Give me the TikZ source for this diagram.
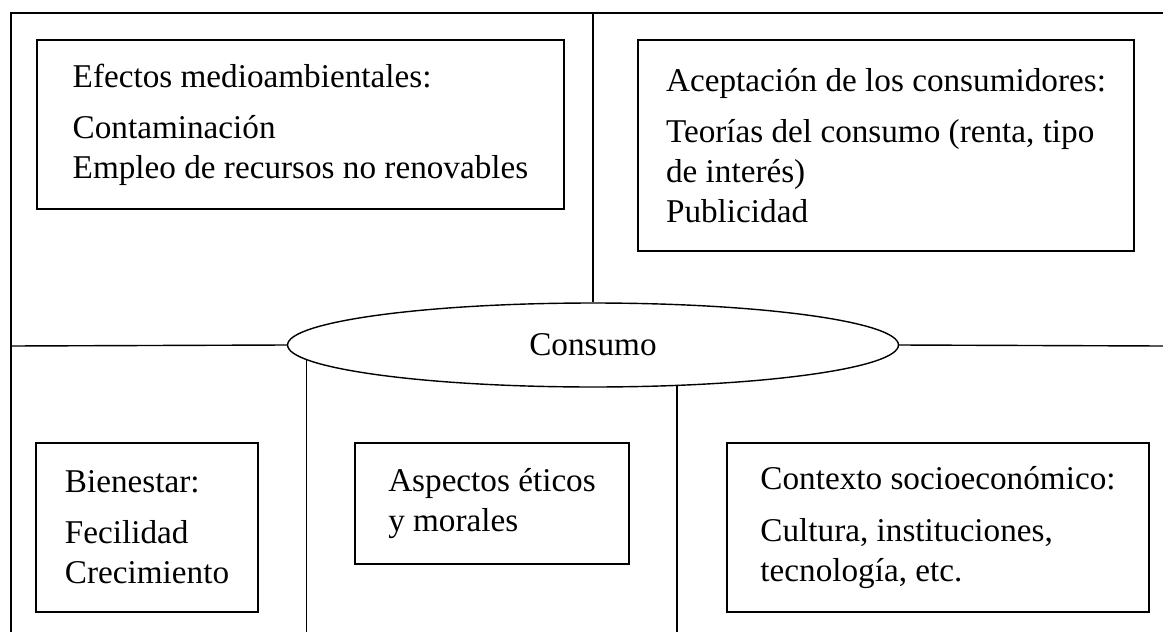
\documentclass[tikz,border=0pt]{standalone}
\usepackage{fontspec}
\setmainfont{Liberation Serif}
\usetikzlibrary{shapes.geometric}
\tikzset{
  topic box/.style={
    draw=black,
    line width=0.9pt,
    inner sep=0pt,
    align=left,
    font=\fontsize{18.9}{22.8}\selectfont,
  },
  frame line/.style={
    line width=1.1pt,
    draw=black,
  },
  divider/.style={
    line width=0.8pt,
    draw=black,
  },
}

\begin{document}
\begin{tikzpicture}[x=0.02cm,y=-0.02cm]
  \useasboundingbox (0,0) rectangle (1163,632);

  % Outer frame corners and side ends
  \coordinate (frameNW) at (11,13);
  \coordinate (frameNE) at (1163,13);
  \coordinate (frameSW) at (11,632);
  \coordinate (leftend) at (11,346);
  \coordinate (rightend) at (1163,346);

  % Central ellipse
  \node[ellipse, draw, line width=0.8pt, inner sep=0pt,
        minimum width=12.22cm, minimum height=1.68cm,
        font=\fontsize{18.9}{22.8}\selectfont] (consumo) at (593,345) {Consumo};

  % Upper boxes
  \node[topic box, minimum width=10.54cm, minimum height=3.38cm] (envbox) at (300.5,124.5)
    {Efectos medioambientales:\\[6.3pt]Contaminación\\Empleo de recursos no renovables};
  \node[topic box, minimum width=9.92cm, minimum height=4.22cm] (acceptbox) at (886,145.5)
    {Aceptación de los consumidores:\\[6.3pt]Teorías del consumo (renta, tipo\\de interés)\\Publicidad};

  % Lower boxes
  \node[topic box, minimum width=4.44cm, minimum height=3.38cm] (welfarebox) at (147,527.5)
    {Bienestar:\\[6.3pt]Fecilidad\\Crecimiento};
  \node[topic box, minimum width=5.48cm, minimum height=2.42cm] (ethicsbox) at (492,503.5)
    {Aspectos éticos\\y morales};
  \node[topic box, minimum width=8.44cm, minimum height=3.38cm] (contextbox) at (938,527.5)
    {Contexto socioeconómico:\\[6.3pt]Cultura, instituciones,\\tecnología, etc.};

  % Frame and dividers
  \draw[frame line] (frameNE) -- (frameNW) -- (frameSW);
  \draw[divider] (leftend) -- (consumo.west);
  \draw[divider] (consumo.east) -- (rightend);
  \draw[divider] (consumo.north) -- (consumo.north |- frameNW);
  \draw[divider] (consumo.183) -- (consumo.183 |- frameSW);
  \draw[divider] (consumo.-26) -- (consumo.-26 |- frameSW);
\end{tikzpicture}
\end{document}
